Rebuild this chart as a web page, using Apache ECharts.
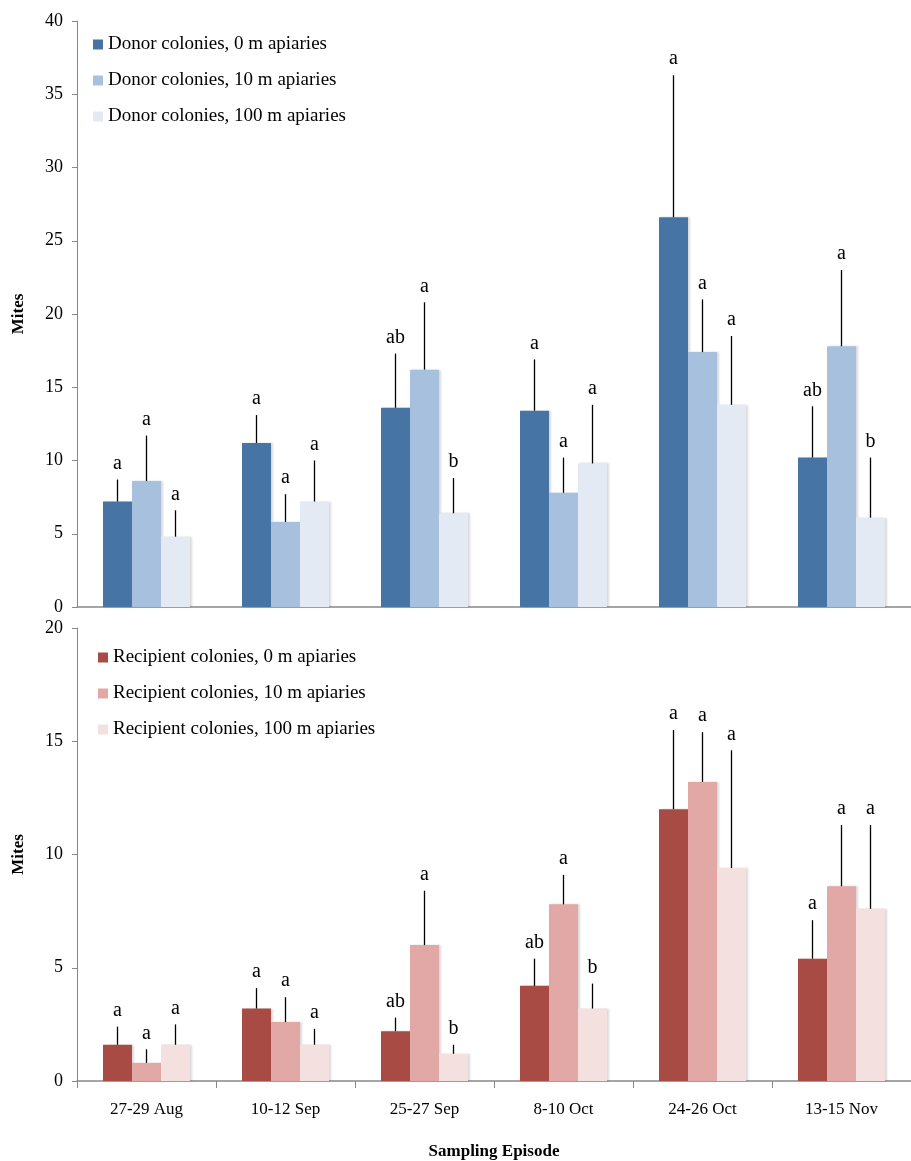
<!DOCTYPE html>
<html><head><meta charset="utf-8">
<script src="https://cdn.jsdelivr.net/npm/echarts@6/dist/echarts.min.js"></script>
<style>html,body{margin:0;padding:0;background:#fff}#c{width:911px;height:1161px}</style>
</head><body><div id="c"></div>
<script>
const categories = ['27-29 Aug','10-12 Sep','25-27 Sep','8-10 Oct','24-26 Oct','13-15 Nov'];
const donorNames = ['Donor colonies, 0 m apiaries','Donor colonies, 10 m apiaries','Donor colonies, 100 m apiaries'];
const recipNames = ['Recipient colonies, 0 m apiaries','Recipient colonies, 10 m apiaries','Recipient colonies, 100 m apiaries'];
const donor0 = [7.2, 11.2, 13.6, 13.4, 26.6, 10.2];
const donor0Err = [8.7, 13.1, 17.3, 16.9, 36.3, 13.7];
const donor0Lab = ['a','a','ab','a','a','ab'];
const donor10 = [8.6, 5.8, 16.2, 7.8, 17.4, 17.8];
const donor10Err = [11.7, 7.7, 20.8, 10.2, 21.0, 23.0];
const donor10Lab = ['a','a','a','a','a','a'];
const donor100 = [4.8, 7.2, 6.4, 9.8, 13.8, 6.1];
const donor100Err = [6.6, 10.0, 8.8, 13.8, 18.5, 10.2];
const donor100Lab = ['a','a','b','a','a','b'];
const recip0 = [1.6, 3.2, 2.2, 4.2, 12.0, 5.4];
const recip0Err = [2.4, 4.1, 2.8, 5.4, 15.5, 7.1];
const recip0Lab = ['a','a','ab','ab','a','a'];
const recip10 = [0.8, 2.6, 6.0, 7.8, 13.2, 8.6];
const recip10Err = [1.4, 3.7, 8.4, 9.1, 15.4, 11.3];
const recip10Lab = ['a','a','a','a','a','a'];
const recip100 = [1.6, 1.6, 1.2, 3.2, 9.4, 7.6];
const recip100Err = [2.5, 2.3, 1.6, 4.3, 14.6, 11.3];
const recip100Lab = ['a','a','b','b','a','a'];

const F = 'Liberation Serif, Times New Roman, serif';
const BW = 29;
const donorColors = ['#4674a5','#a7c0de','#e3eaf4'];
const recipColors = ['#a84b45','#e2a8a6','#f4e0df'];

function errSeries(vals, errs, labs, k, axis) {
  return {
    type: 'custom', xAxisIndex: axis, yAxisIndex: axis, z: 5, silent: true,
    data: vals.map((v, i) => [i, v, errs[i], labs[i]]),
    renderItem: function (params, api) {
      const p0 = api.coord([api.value(0), api.value(1)]);
      const p1 = api.coord([api.value(0), api.value(2)]);
      const x = p0[0] + (k - 1) * BW;
      return { type: 'group', children: [
        { type: 'line', shape: { x1: x, y1: p0[1], x2: x, y2: p1[1] }, style: { stroke: '#000', lineWidth: 1.3 } },
        { type: 'text', style: { x: x, y: p1[1] - 6, text: labs[params.dataIndex], font: '20px ' + F, fill: '#000', align: 'center', verticalAlign: 'bottom' } }
      ]};
    }
  };
}
function barSeries(name, vals, color, axis) {
  return { name: name, type: 'bar', xAxisIndex: axis, yAxisIndex: axis, data: vals, barWidth: BW, barGap: '0%',
    itemStyle: { color: color, shadowColor: 'rgba(0,0,0,0.15)', shadowOffsetX: 2, shadowOffsetY: 0, shadowBlur: 2 } };
}
const chart = echarts.init(document.getElementById('c'));
const axisLine = { lineStyle: { color: '#888', width: 1.5 } };
chart.setOption({
  animation: false,
  textStyle: { fontFamily: F },
  grid: [
    { left: 77, right: 0, top: 21, height: 586 },
    { left: 77, right: 0, top: 628, height: 459 }
  ],
  legend: [
    { data: donorNames, orient: 'vertical', left: 88, top: 30, itemWidth: 10, itemHeight: 10, itemGap: 17, icon: 'rect',
      textStyle: { fontFamily: F, fontSize: 19, color: '#000' } },
    { data: recipNames, orient: 'vertical', left: 93, top: 643, itemWidth: 10, itemHeight: 10, itemGap: 17, icon: 'rect',
      textStyle: { fontFamily: F, fontSize: 19, color: '#000' } }
  ],
  xAxis: [
    { type: 'category', gridIndex: 0, data: categories, axisLine: axisLine, axisTick: { show: false }, axisLabel: { show: false } },
    { type: 'category', gridIndex: 1, data: categories, axisLine: axisLine,
      axisTick: { show: true, length: 7, lineStyle: { color: '#888' } },
      axisLabel: { fontFamily: F, fontSize: 17, color: '#000', margin: 20 },
      name: 'Sampling Episode', nameLocation: 'middle', nameGap: 62,
      nameTextStyle: { fontFamily: F, fontSize: 17, fontWeight: 'bold', color: '#000' } }
  ],
  yAxis: [
    { type: 'value', gridIndex: 0, min: 0, max: 40, interval: 5, splitLine: { show: false }, axisLine: { show: true, lineStyle: { color: '#888' } },
      axisTick: { show: true, length: 5, lineStyle: { color: '#888' } },
      axisLabel: { fontFamily: F, fontSize: 18, color: '#000', margin: 14 },
      name: 'Mites', nameLocation: 'middle', nameGap: 50, nameTextStyle: { fontFamily: F, fontSize: 17, fontWeight: 'bold', color: '#000' } },
    { type: 'value', gridIndex: 1, min: 0, max: 20, interval: 5, splitLine: { show: false }, axisLine: { show: true, lineStyle: { color: '#888' } },
      axisTick: { show: true, length: 5, lineStyle: { color: '#888' } },
      axisLabel: { fontFamily: F, fontSize: 18, color: '#000', margin: 14 },
      name: 'Mites', nameLocation: 'middle', nameGap: 50, nameTextStyle: { fontFamily: F, fontSize: 17, fontWeight: 'bold', color: '#000' } }
  ],
  series: [
    barSeries(donorNames[0], donor0, donorColors[0], 0),
    barSeries(donorNames[1], donor10, donorColors[1], 0),
    barSeries(donorNames[2], donor100, donorColors[2], 0),
    errSeries(donor0, donor0Err, donor0Lab, 0, 0),
    errSeries(donor10, donor10Err, donor10Lab, 1, 0),
    errSeries(donor100, donor100Err, donor100Lab, 2, 0),
    barSeries(recipNames[0], recip0, recipColors[0], 1),
    barSeries(recipNames[1], recip10, recipColors[1], 1),
    barSeries(recipNames[2], recip100, recipColors[2], 1),
    errSeries(recip0, recip0Err, recip0Lab, 0, 1),
    errSeries(recip10, recip10Err, recip10Lab, 1, 1),
    errSeries(recip100, recip100Err, recip100Lab, 2, 1)
  ]
});
</script></body></html>
